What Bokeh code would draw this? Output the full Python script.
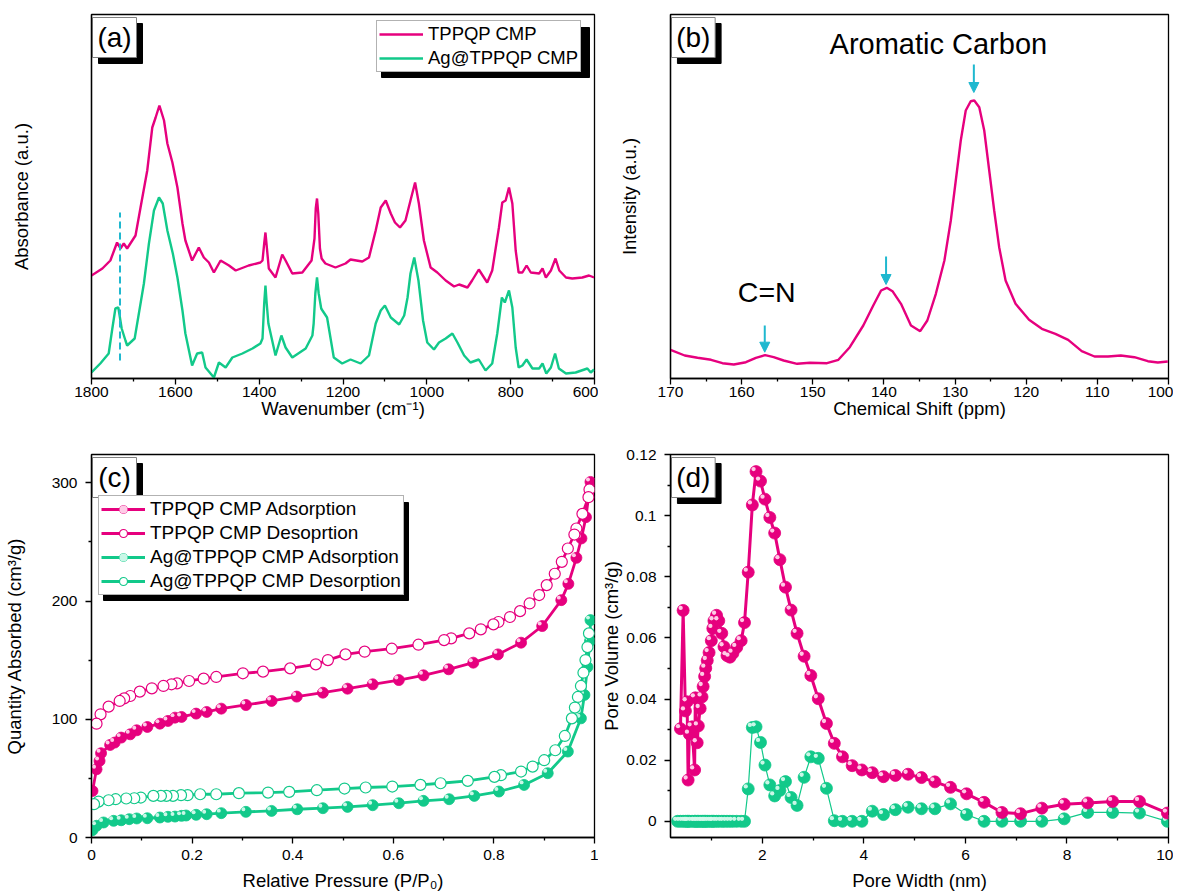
from bokeh.plotting import figure
from bokeh.layouts import gridplot
from bokeh.models import (Range1d, FixedTicker, NumeralTickFormatter, Legend,
                          LegendItem, Label, Arrow, NormalHead)
from bokeh.embed import file_html
from bokeh.resources import INLINE

FONT = "Liberation Sans"
PINK = "#E6007E"
GREEN = "#12C98A"
CYAN = "#1FB8CF"
PINK_HI = "#FFD6EC"
GREEN_HI = "#D4FAEC"

# ---------------- (a) FTIR ----------------
IR_WN_T = [1800, 1774, 1755, 1739, 1731, 1723, 1715, 1695, 1683, 1667, 1655, 1647, 1638, 1627,
           1619, 1607, 1595, 1583, 1576, 1560, 1544, 1532, 1520, 1508, 1492, 1472, 1456, 1425,
           1397, 1392, 1388, 1385, 1381, 1377, 1361, 1345, 1337, 1321, 1297, 1275, 1268, 1265,
           1262, 1259, 1255, 1251, 1242, 1218, 1194, 1182, 1154, 1138, 1122, 1110, 1098, 1086,
           1076, 1064, 1051, 1039, 1028, 1019, 1007, 991, 975, 955, 935, 923, 903, 892, 876, 856,
           844, 828, 820, 812, 804, 796, 788, 781, 772, 762, 752, 732, 724, 716, 704, 693, 684,
           668, 653, 629, 613, 601]
IR_AB_T = [103, 110, 118, 136, 130, 135, 130, 143, 171, 208, 251, 261, 273, 258,
           235, 216, 191, 155, 138, 118, 131, 121, 116, 106, 118, 113, 108, 113,
           116, 118, 135, 146, 128, 110, 101, 124, 118, 105, 106, 118, 140, 170,
           180, 165, 130, 120, 115, 111, 115, 119, 117, 121, 148, 171, 178, 165,
           156, 151, 158, 178, 196, 175, 138, 111, 106, 98, 92, 94, 91, 98, 109, 96,
           108, 151, 176, 178, 191, 175, 128, 106, 106, 113, 106, 105, 110, 101, 108, 120, 108,
           101, 100, 101, 103, 101]
IR_WN_A = [1800, 1779, 1759, 1751, 1743, 1736, 1728, 1719, 1715, 1697, 1687, 1675, 1663, 1651,
           1639, 1630, 1619, 1606, 1595, 1583, 1576, 1560, 1548, 1536, 1528, 1508, 1496, 1480,
           1464, 1440, 1416, 1397, 1392, 1388, 1385, 1382, 1378, 1361, 1347, 1337, 1321, 1289,
           1273, 1270, 1266, 1262, 1258, 1252, 1249, 1238, 1222, 1202, 1182, 1158, 1138, 1122,
           1110, 1100, 1086, 1066, 1054, 1046, 1039, 1030, 1020, 1009, 999, 983, 971, 955, 939,
           927, 911, 896, 876, 860, 844, 832, 821, 814, 804, 796, 788, 781, 772, 762, 748, 732,
           724, 715, 704, 694, 685, 668, 645, 617, 609, 601]
IR_AB_A = [6, 15, 25, 48, 70, 71, 50, 38, 33, 40, 65, 95, 135, 168,
           181, 175, 148, 125, 101, 68, 45, 13, 25, 26, 11, 1, 16, 11,
           21, 25, 30, 35, 40, 75, 93, 75, 55, 23, 43, 31, 21, 30,
           43, 55, 85, 101, 85, 70, 68, 61, 21, 15, 19, 15, 23, 55,
           68, 73, 61, 54, 63, 81, 105, 121, 98, 58, 36, 29, 36, 40, 45,
           36, 23, 16, 19, 8, 15, 45, 81, 76, 88, 71, 31, 11, 13, 19, 10, 10,
           15, 5, 11, 25, 10, 5, 6, 10, 6, 9]
IR_MARK_WN = 1732
IR_MARK_LOW, IR_MARK_HIGH = 18, 166

# ---------------- (b) 13C NMR ----------------
NMR_PPM = [170, 168, 166.2, 164.3, 162.7, 161.1, 159.4, 158.0, 156.7, 155.5, 154.1, 152.2, 150.4,
           148.0, 146.4, 144.8, 142.9, 141.5, 140.4, 139.6, 138.8, 137.6, 136.2, 134.9, 133.9,
           132.7, 131.5, 130.6, 129.9, 129.2, 128.5, 127.8, 127.3, 126.6, 125.9, 125.2, 124.5,
           123.8, 122.9, 121.5, 119.6, 117.8, 115.9, 114.1, 112.2, 110.4, 108.5, 106.7, 104.8,
           102.9, 101.5, 100.1]
NMR_INT = [28.7, 23, 20.7, 18.7, 15.3, 14, 16.3, 20.7, 23.3, 21.3, 18, 14.7, 15.7,
           15.3, 18.7, 31.3, 53, 73, 88, 90.7, 87.3, 74.7, 53, 47.3, 58,
           84.7, 118, 158, 198, 238, 268, 277.3, 278, 271.3, 248, 208, 168,
           131.3, 98, 74.7, 58.7, 49.7, 44.7, 38.7, 27.3, 22, 22, 23, 21.3,
           17.3, 16, 17]
NMR_ARROWS = [(156.75, 53, 26.3), (139.7, 122, 94), (127.36, 314, 286)]

# ---------------- (c) N2 isotherms ----------------
P_ADS_T = [0.002, 0.010, 0.016, 0.019, 0.037, 0.046, 0.059, 0.077, 0.090, 0.111, 0.136, 0.152,
           0.166, 0.179, 0.208, 0.229, 0.258, 0.307, 0.358, 0.408, 0.460, 0.509, 0.559, 0.611,
           0.660, 0.710, 0.759, 0.808, 0.854, 0.896, 0.934, 0.948, 0.964, 0.974, 0.983, 0.992]
Q_ADS_T = [39.4, 57.7, 64.8, 71.3, 78.3, 80.3, 84.5, 87.3, 90.7, 93.5, 96.3, 98.6,
           101.4, 102.0, 104.8, 106.2, 109.0, 112.1, 115.5, 119.2, 122.5, 125.9, 129.6, 133.2,
           137.2, 142.3, 147.9, 154.9, 164.8, 178.9, 200.8, 214.6, 236.6, 253.0, 271.0, 300.8]
P_DES_T = [0.990, 0.988, 0.976, 0.964, 0.960, 0.947, 0.935, 0.921, 0.905, 0.890, 0.871, 0.852,
           0.832, 0.809, 0.799, 0.774, 0.751, 0.715, 0.701, 0.650, 0.597, 0.543, 0.505, 0.470,
           0.446, 0.395, 0.341, 0.301, 0.248, 0.223, 0.194, 0.170, 0.159, 0.143, 0.120, 0.096,
           0.077, 0.065, 0.056, 0.034, 0.018, 0.010]
Q_DES_T = [294.4, 287.9, 273.8, 261.4, 256.3, 244.5, 233.2, 223.1, 213.5, 205.1, 198.0, 191.5,
           186.5, 182.3, 180.3, 176.1, 172.7, 168.5, 167.0, 163.1, 159.7, 157.2, 154.9, 150.1,
           146.5, 143.1, 140.3, 138.9, 135.8, 134.4, 132.4, 130.4, 129.6, 128.2, 126.2, 123.4,
           119.7, 117.7, 115.5, 110.7, 104.2, 96.3]
P_ADS_A = [0.002, 0.010, 0.024, 0.044, 0.059, 0.075, 0.090, 0.111, 0.136, 0.152, 0.166, 0.179,
           0.188, 0.208, 0.229, 0.258, 0.307, 0.358, 0.409, 0.460, 0.509, 0.559, 0.611, 0.660,
           0.711, 0.761, 0.810, 0.860, 0.907, 0.947, 0.973, 0.980, 0.986, 0.991, 0.992]
Q_ADS_A = [6.2, 9.9, 12.7, 14.1, 14.6, 15.5, 16.1, 16.3, 16.9, 17.5, 17.7, 18.3,
           18.6, 19.2, 19.7, 20.6, 21.7, 22.5, 23.9, 24.8, 25.9, 27.3, 29.0, 31.0,
           32.4, 35.2, 38.9, 44.5, 54.4, 72.7, 100.8, 120.6, 144.2, 166.2, 183.9]
P_DES_A = [0.989, 0.986, 0.982, 0.978, 0.973, 0.967, 0.961, 0.955, 0.941, 0.922, 0.900, 0.877,
           0.854, 0.814, 0.801, 0.748, 0.694, 0.654, 0.598, 0.545, 0.503, 0.448, 0.393, 0.351,
           0.293, 0.248, 0.216, 0.191, 0.178, 0.162, 0.149, 0.138, 0.123, 0.098, 0.085, 0.069,
           0.048, 0.034, 0.014, 0.005]
Q_DES_A = [172.7, 161.1, 150.1, 139.4, 128.2, 118.9, 109.9, 100.8, 85.9, 73.8, 65.4, 60.0,
           55.8, 52.7, 51.3, 47.9, 45.9, 44.5, 43.1, 42.3, 41.4, 40.0, 38.6, 38.0,
           37.5, 36.6, 36.6, 35.8, 35.8, 35.2, 35.2, 35.2, 35.2, 33.8, 33.2, 33.0,
           32.4, 31.5, 30.4, 28.2]

# ---------------- (d) pore size distribution ----------------
PW_T = [0.386, 0.439, 0.484, 0.517, 0.537, 0.562, 0.615, 0.665, 0.679, 0.716, 0.738, 0.774,
        0.811, 0.833, 0.862, 0.884, 0.914, 0.950, 0.994, 1.024, 1.046, 1.097, 1.141, 1.200,
        1.244, 1.303, 1.361, 1.420, 1.494, 1.582, 1.648, 1.721, 1.802, 1.875, 1.963, 2.051,
        2.147, 2.242, 2.345, 2.455, 2.565, 2.683, 2.822, 2.954, 3.101, 3.262, 3.417, 3.578,
        3.769, 3.960, 4.165, 4.385, 4.620, 4.870, 5.134, 5.398, 5.706, 6.022, 6.367, 6.719,
        7.086, 7.505, 7.945, 8.407, 8.899, 9.428, 9.978]
PV_T = [0.0303, 0.0690, 0.0361, 0.0391, 0.0135, 0.0285, 0.0309, 0.0168, 0.0404, 0.0257, 0.0312,
        0.0369, 0.0407, 0.0441, 0.0474, 0.0501, 0.0526, 0.0552, 0.0591, 0.0631, 0.0656, 0.0674,
        0.0656, 0.0615, 0.0571, 0.0542, 0.0537, 0.0550, 0.0569, 0.0591, 0.0650, 0.0815, 0.1035,
        0.1144, 0.1113, 0.1054, 0.0994, 0.0943, 0.0856, 0.0766, 0.0691, 0.0615, 0.0540, 0.0477,
        0.0401, 0.0320, 0.0255, 0.0211, 0.0182, 0.0168, 0.0159, 0.0146, 0.0150, 0.0154, 0.0143,
        0.0129, 0.0111, 0.0090, 0.0062, 0.0029, 0.0025, 0.0043, 0.0056, 0.0060, 0.0065, 0.0065,
        0.0027]
PW_A = [0.33, 0.386, 0.439, 0.484, 0.517, 0.537, 0.562, 0.615, 0.665, 0.679, 0.716, 0.738,
        0.774, 0.811, 0.833, 0.862, 0.884, 0.914, 0.950, 0.994, 1.024, 1.046, 1.097, 1.141,
        1.200, 1.244, 1.303, 1.361, 1.420, 1.494, 1.582, 1.648, 1.721, 1.802, 1.875, 1.963,
        2.051, 2.147, 2.242, 2.345, 2.455, 2.565, 2.683, 2.822, 2.954, 3.101, 3.262, 3.417,
        3.578, 3.769, 3.960, 4.165, 4.385, 4.620, 4.870, 5.134, 5.398, 5.706, 6.022, 6.367,
        6.719, 7.086, 7.505, 7.945, 8.407, 8.899, 9.428, 9.978]
PV_A = [0.0, 0.0, 0.0, 0.0, 0.0, 0.0, 0.0, 0.0, 0.0, 0.0, 0.0, 0.0,
        0.0, 0.0, 0.0, 0.0, 0.0, 0.0, 0.0, 0.0, 0.0, 0.0, 0.0, 0.0,
        0.0, 0.0, 0.0, 0.0, 0.0, 0.0, 0.0, 0.0, 0.0106, 0.0307, 0.0309, 0.0258,
        0.0184, 0.0119, 0.0083, 0.0101, 0.0130, 0.0078, 0.0052, 0.0144, 0.0211, 0.0206, 0.0108,
        0.0002, 0.0, 0.0, 0.0, 0.0033, 0.0022, 0.0038, 0.0046, 0.0041, 0.0041, 0.0057, 0.0022,
        0.0, 0.0, 0.0, 0.0, 0.0008, 0.0029, 0.0029, 0.0027, 0.0]

# ---------------- layout geometry (page pixels) ----------------
GA = dict(left=91, top=14, w=503, h=364, x=(1800, 600), y=(0, 364))
GB = dict(left=666, top=14, w=502, h=364, x=(170, 100), y=(0, 364))
GC = dict(left=91, top=454, w=503, h=383, x=(0, 1), y=(0, 324))
GD = dict(left=666, top=454, w=502, h=383, x=(0.19, 10), y=(-0.0053, 0.12))


def cx(g, px):
    return g["x"][0] + (px - g["left"]) / g["w"] * (g["x"][1] - g["x"][0])


def cy(g, py):
    return g["y"][1] - (py - g["top"]) / g["h"] * (g["y"][1] - g["y"][0])


def make_fig(g, width, height, bl, br, bt, bb):
    p = figure(width=width, height=height, x_range=Range1d(*g["x"]), y_range=Range1d(*g["y"]),
               output_backend="svg", toolbar_location=None,
               min_border_left=bl, min_border_right=br, min_border_top=bt, min_border_bottom=bb)
    p.xgrid.visible = False
    p.ygrid.visible = False
    p.outline_line_color = "black"
    p.outline_line_width = 1.3
    p.outline_line_alpha = 1
    p.background_fill_color = "white"
    p.border_fill_color = "white"
    for ax in p.axis:
        ax.axis_line_color = "black"
        ax.axis_line_width = 1.3
        ax.major_tick_line_color = "black"
        ax.minor_tick_line_color = "black"
        ax.major_tick_line_width = 1.3
        ax.minor_tick_line_width = 1.3
        ax.major_tick_in = 0
        ax.major_tick_out = 6
        ax.minor_tick_in = 0
        ax.minor_tick_out = 3
        ax.major_label_text_font = FONT
        ax.major_label_text_font_size = "15.5px"
        ax.major_label_text_color = "black"
        ax.axis_label_text_font = FONT
        ax.axis_label_text_font_size = "18.5px"
        ax.axis_label_text_font_style = "normal"
        ax.axis_label_text_color = "black"
    return p


def blank_yaxis(p, label, standoff):
    ax = p.yaxis[0]
    ax.ticker = FixedTicker(ticks=[], minor_ticks=[])
    ax.major_tick_out = 0
    ax.minor_tick_out = 0
    ax.major_label_standoff = 0
    ax.axis_label = label
    ax.axis_label_standoff = standoff


def panel_tag(p, g, text):
    L, T, W, H, S = g["left"] + 1, g["top"] + 3, 44, 40, 6
    p.quad(left=[cx(g, L + S)], right=[cx(g, L + W + S)], top=[cy(g, T + S)],
           bottom=[cy(g, T + H + S)], fill_color="black", line_color="black")
    p.quad(left=[cx(g, L)], right=[cx(g, L + W)], top=[cy(g, T)], bottom=[cy(g, T + H)],
           fill_color="white", line_color="#808080", line_width=1)
    p.add_layout(Label(x=cx(g, L + W / 2), y=cy(g, T + H / 2), text=text, text_align="center",
                       text_baseline="middle", text_font=FONT, text_font_size="28px",
                       text_color="black"))


def legend_shadow(p, g, L, T, W, H, S=5):
    p.quad(left=[cx(g, L + S)], right=[cx(g, L + W + S)], top=[cy(g, T + S)],
           bottom=[cy(g, T + H + S)], fill_color="black", line_color="black")


def make_legend(items, loc, fs, pad=2):
    return Legend(items=items, location=loc, label_text_font=FONT, label_text_font_size=fs,
                  label_text_color="black", glyph_width=44, glyph_height=20, label_height=22,
                  spacing=2, padding=pad, label_standoff=5, margin=0,
                  border_line_color="#666666", border_line_width=1,
                  background_fill_color="white", background_fill_alpha=1)


def series(p, g, x, y, color, hi, filled, lw, ms):
    """line + sphere-like markers; the highlight sits ~2.5 px up-left of each marker centre"""
    r_line = p.line(x, y, line_color=color, line_width=lw)
    if filled:
        dx = -2.5 * (g["x"][1] - g["x"][0]) / g["w"]
        dy = 2.5 * (g["y"][1] - g["y"][0]) / g["h"]
        r_m = p.scatter(x, y, size=ms, fill_color=color, line_color=color, line_width=0.8)
        r_h = p.scatter([v + dx for v in x], [v + dy for v in y], size=ms * 0.36,
                        fill_color=hi, line_color=None, fill_alpha=0.95)
        return [r_line, r_m, r_h]
    r_m = p.scatter(x, y, size=ms, fill_color="white", line_color=color, line_width=1.2)
    return [r_line, r_m]


# ---------------- panel (a) ----------------
pa = make_fig(GA, 598, 444, 91, 4, 14, 66)
pa.xaxis[0].ticker = FixedTicker(ticks=[1800, 1600, 1400, 1200, 1000, 800, 600],
                                 minor_ticks=[1700, 1500, 1300, 1100, 900, 700])
pa.xaxis[0].axis_label = "Wavenumber (cm\u207b\u00b9)"
pa.xaxis[0].major_label_standoff = 2
pa.xaxis[0].axis_label_standoff = -2
blank_yaxis(pa, "Absorbance (a.u.)", 60)
ra1 = pa.line(IR_WN_T, IR_AB_T, line_color=PINK, line_width=2.4)
ra2 = pa.line(IR_WN_A, IR_AB_A, line_color=GREEN, line_width=2.4)
pa.add_layout(Arrow(end=None, x_start=IR_MARK_WN, y_start=IR_MARK_LOW, x_end=IR_MARK_WN,
                    y_end=IR_MARK_HIGH, line_color=CYAN, line_width=2, line_dash="7 4"))
panel_tag(pa, GA, "(a)")
legend_shadow(pa, GA, 376, 22, 208, 50)
pa.add_layout(make_legend([LegendItem(label="TPPQP CMP", renderers=[ra1]),
                           LegendItem(label="Ag@TPPQP CMP", renderers=[ra2])],
                          (285, 306), "18.5px"))

# ---------------- panel (b) ----------------
pb = make_fig(GB, 575, 444, 68, 5, 14, 66)
pb.xaxis[0].ticker = FixedTicker(ticks=[170, 160, 150, 140, 130, 120, 110, 100],
                                 minor_ticks=[165, 155, 145, 135, 125, 115, 105])
pb.xaxis[0].axis_label = "Chemical Shift (ppm)"
pb.xaxis[0].major_label_standoff = 2
pb.xaxis[0].axis_label_standoff = -2
blank_yaxis(pb, "Intensity (a.u.)", 31)
pb.line(NMR_PPM, NMR_INT, line_color=PINK, line_width=2.4)
for (ax_, y0, y1) in NMR_ARROWS:
    pb.add_layout(Arrow(end=NormalHead(size=10, fill_color=CYAN, line_color=CYAN),
                        x_start=ax_, y_start=y0, x_end=ax_, y_end=y1,
                        line_color=CYAN, line_width=2))
pb.add_layout(Label(x=cx(GB, 936), y=cy(GB, 43), text="Aromatic Carbon", text_align="center",
                    text_baseline="middle", text_font=FONT, text_font_size="29px",
                    text_color="black"))
pb.add_layout(Label(x=cx(GB, 763), y=cy(GB, 291), text="C=N", text_align="center",
                    text_baseline="middle", text_font=FONT, text_font_size="28.5px",
                    text_color="black"))
panel_tag(pb, GB, "(b)")

# ---------------- panel (c) ----------------
pc = make_fig(GC, 598, 450, 91, 4, 10, 57)
pc.xaxis[0].ticker = FixedTicker(ticks=[0, 0.2, 0.4, 0.6, 0.8, 1.0],
                                 minor_ticks=[0.1, 0.3, 0.5, 0.7, 0.9])
pc.xaxis[0].formatter = NumeralTickFormatter(format="0.[0]")
pc.xaxis[0].axis_label = "Relative Pressure (P/P\u2080)"
pc.xaxis[0].major_label_standoff = 6
pc.xaxis[0].axis_label_standoff = 7
pc.yaxis[0].ticker = FixedTicker(ticks=[0, 100, 200, 300], minor_ticks=[50, 150, 250])
pc.yaxis[0].axis_label = "Quantity Absorbed (cm\u00b3/g)"
pc.yaxis[0].major_label_standoff = 8
pc.yaxis[0].axis_label_standoff = 24

c1 = series(pc, GC, P_ADS_T, Q_ADS_T, PINK, PINK_HI, True, 2.8, 11)
c2 = series(pc, GC, P_DES_T, Q_DES_T, PINK, PINK_HI, False, 2.8, 11)
c3 = series(pc, GC, P_ADS_A, Q_ADS_A, GREEN, GREEN_HI, True, 2.8, 11)
c4 = series(pc, GC, P_DES_A, Q_DES_A, GREEN, GREEN_HI, False, 2.8, 11)
panel_tag(pc, GC, "(c)")
legend_shadow(pc, GC, 98, 497, 305, 98)
pc.add_layout(make_legend([LegendItem(label="TPPQP CMP Adsorption", renderers=c1),
                           LegendItem(label="TPPQP CMP Desoprtion", renderers=c2),
                           LegendItem(label="Ag@TPPQP CMP Adsorption", renderers=c3),
                           LegendItem(label="Ag@TPPQP CMP Desorption", renderers=c4)],
                          (7, 242), "19px"))

# ---------------- panel (d) ----------------
pd_ = make_fig(GD, 575, 450, 68, 5, 10, 57)
pd_.xaxis[0].ticker = FixedTicker(ticks=[2, 4, 6, 8, 10], minor_ticks=[1, 3, 5, 7, 9])
pd_.xaxis[0].axis_label = "Pore Width (nm)"
pd_.xaxis[0].major_label_standoff = 6
pd_.xaxis[0].axis_label_standoff = 7
pd_.yaxis[0].ticker = FixedTicker(ticks=[0, 0.02, 0.04, 0.06, 0.08, 0.1, 0.12],
                                  minor_ticks=[0.01, 0.03, 0.05, 0.07, 0.09, 0.11])
pd_.yaxis[0].formatter = NumeralTickFormatter(format="0.[00]")
pd_.yaxis[0].axis_label = "Pore Volume (cm\u00b3/g)"
pd_.yaxis[0].major_label_standoff = 8
pd_.yaxis[0].axis_label_standoff = 1
series(pd_, GD, PW_A, PV_A, GREEN, GREEN_HI, True, 1.2, 12)
series(pd_, GD, PW_T, PV_T, PINK, PINK_HI, True, 3.0, 12)
panel_tag(pd_, GD, "(d)")

grid = gridplot([[pa, pb], [pc, pd_]], toolbar_location=None)
open("out.html", "w").write(file_html(grid, INLINE))
